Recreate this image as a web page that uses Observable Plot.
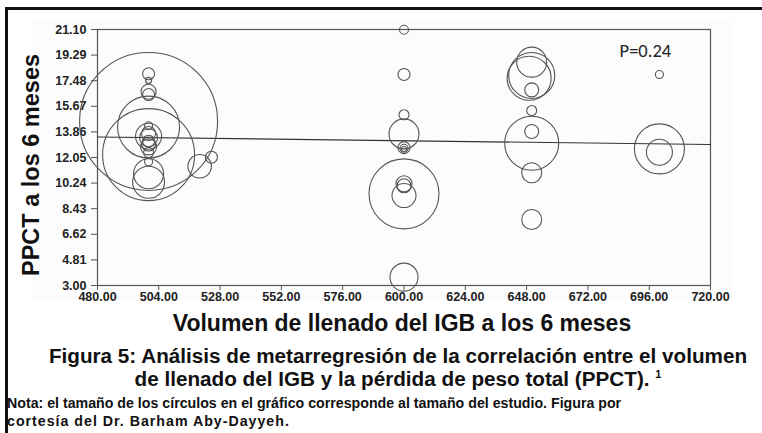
<!DOCTYPE html>
<html>
<head>
<meta charset="utf-8">
<script src="https://cdn.jsdelivr.net/npm/d3@7"></script>
<script src="https://cdn.jsdelivr.net/npm/@observablehq/plot@0.6"></script>
<style>
  html, body { margin: 0; padding: 0; background: #fff; }
  #wrap { position: relative; width: 762px; height: 433px; overflow: hidden; background: #fff; }
  #panel { position: absolute; left: 33px; top: 19px; width: 700px; height: 282px; background: #fcfcfc; }
  #border { position: absolute; left: 5px; top: 7px; right: -10px; bottom: -10px; border-top: 3px solid #111; border-left: 3px solid #111; }
  #chart { position: absolute; left: 0; top: 0; }
  #chart svg g[aria-label="x-axis tick label"] text,
  #chart svg g[aria-label="y-axis tick label"] text { font-weight: bold; }
  .t { position: absolute; font-family: "Liberation Sans Narrow", "Liberation Sans", Arial, sans-serif; font-weight: bold; color: #111; white-space: nowrap; }
  #xtitle { left: 0; width: 804px; text-align: center; top: 310px; font-family: "Liberation Sans", Arial, sans-serif; font-size: 23px; }
  #cap1 { left: 0; width: 796px; text-align: center; top: 344px; font-size: 20.7px; }
  #cap2 { left: 0; width: 796px; text-align: center; top: 367px; font-size: 20.7px; }
  #cap2 sup { font-size: 11px; vertical-align: 8px; }
  #note1 { left: 7px; top: 395px; font-size: 14.2px; }
  #note2 { left: 7px; top: 413px; font-size: 14.2px; letter-spacing: 1px; }
</style>
</head>
<body>
<div id="wrap">
  <div id="panel"></div>
  <div id="border"></div>
  <div id="chart"></div>
  <div class="t" id="xtitle">Volumen de llenado del IGB a los 6 meses</div>
  <div class="t" id="cap1">Figura 5: Análisis de metarregresión de la correlación entre el volumen</div>
  <div class="t" id="cap2">de llenado del IGB y la pérdida de peso total (PPCT). <sup>1</sup></div>
  <div class="t" id="note1">Nota: el tamaño de los círculos en el gráfico corresponde al tamaño del estudio. Figura por</div>
  <div class="t" id="note2">cortesía del Dr. Barham Aby-Dayyeh.</div>
</div>
<script>
// Study bubbles: fill volume (mL), %TWL at 6 months, bubble radius (relative study size)
const volume = [
  500, 500, 500, 500, 500, 500, 500, 500, 500, 500, 500, 500, 500, 500, 500, 500, 500, 500, 520, 524.6,
  600, 600, 600, 600, 600, 600, 600, 600, 600, 600, 600, 600,
  650, 650, 649, 650, 650, 650, 650, 650, 650,
  700, 700, 700
];
const ppct = [
  14.6, 12.25, 14.2, 17.97, 17.5, 16.7, 16.5, 14.3, 13.75, 13.55, 13.45, 13.2, 13.0, 12.8, 12.4, 11.75, 10.9, 10.3, 11.43, 12.07,
  21.08, 17.92, 15.07, 13.72, 12.75, 12.7, 12.65, 9.48, 10.19, 10.05, 9.36, 3.59,
  18.79, 17.85, 17.65, 16.83, 15.37, 13.89, 13.06, 10.97, 7.67,
  17.92, 12.66, 12.42
];
const studySize = [
  69, 46, 31, 6, 3, 7.5, 6, 4, 7, 13, 9, 6, 7, 8, 5, 4, 15, 16, 11.7, 6,
  4.5, 6, 5, 15, 6, 4, 2.5, 35, 8, 7, 12, 14,
  15, 23, 22, 7, 5, 7, 27, 10, 10,
  4, 25, 13
];
// Regression line end points
const regX = [480, 720];
const regY = [13.5, 12.97];
// Axis ticks
const xTicks = [480, 504, 528, 552, 576, 600, 624, 648, 672, 696, 720];
const yTicks = [3.00, 4.81, 6.62, 8.43, 10.24, 12.05, 13.86, 15.67, 17.48, 19.29, 21.10];
const pLabel = "P=0.24";
const yTitle = "PPCT a los 6 meses";

const studies = volume.map((v, i) => ({x: v, y: ppct[i], r: studySize[i]}));
const reg = regX.map((v, i) => ({x: v, y: regY[i]}));

const chart = Plot.plot({
  width: 762,
  height: 305,
  marginLeft: 97,
  marginRight: 52,
  marginTop: 29,
  marginBottom: 20,
  style: {fontFamily: "Liberation Sans, Arial, sans-serif", fontSize: "12.5px", color: "#222", background: "transparent", overflow: "visible"},
  x: {domain: [480, 720], ticks: xTicks, tickFormat: d => d.toFixed(2)},
  y: {domain: [3, 21.1], ticks: yTicks, tickFormat: d => d.toFixed(2)},
  r: {type: "linear", domain: [0, 100], range: [0, 100]},
  marks: [
    Plot.frame({stroke: "#555", strokeWidth: 1.2}),
    Plot.axisX({ticks: xTicks, tickFormat: d => d.toFixed(2), tickSize: 5, tickPadding: 2, label: null, stroke: "#555"}),
    Plot.axisY({ticks: yTicks, tickFormat: d => d.toFixed(2), tickSize: 6, tickPadding: 5, label: null, stroke: "#555"}),
    Plot.line(reg, {x: "x", y: "y", stroke: "#333", strokeWidth: 1.2}),
    Plot.dot(studies, {x: "x", y: "y", r: "r", stroke: "#555", strokeWidth: 1.1, fill: "none"}),
    Plot.text([pLabel], {x: [694.5], y: [19.55], text: d => d, fontSize: 18.5, fontWeight: "normal", fill: "#222", fontFamily: "Carlito, 'Open Sans', sans-serif"}),
    Plot.text([yTitle], {frameAnchor: "left", dx: -66.5, dy: 7.5, rotate: -90, textAnchor: "middle", text: d => d, fontSize: 23.5, fontWeight: "bold", fill: "#111"})
  ]
});
document.getElementById("chart").appendChild(chart);
</script>
</body>
</html>
